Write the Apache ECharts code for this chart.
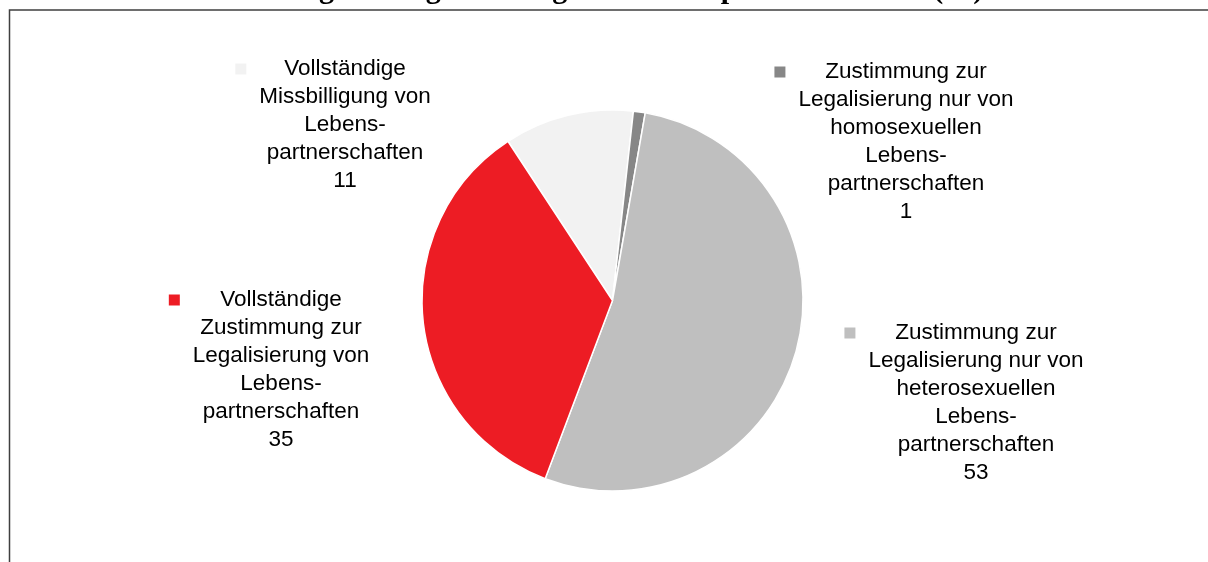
<!DOCTYPE html>
<html>
<head>
<meta charset="utf-8">
<script src="https://cdn.jsdelivr.net/npm/echarts@6/dist/echarts.min.js"></script>
<style>
  html, body { margin: 0; padding: 0; background: #fff; }
  #chart { width: 1208px; height: 562px; }
</style>
</head>
<body>
<div id="chart"></div>
<script>
// Einstellung zur Legalisierung von Lebenspartnerschaften (%)
const names = [
  "Vollständige Missbilligung von Lebenspartnerschaften",
  "Zustimmung zur Legalisierung nur von homosexuellen Lebenspartnerschaften",
  "Zustimmung zur Legalisierung nur von heterosexuellen Lebenspartnerschaften",
  "Vollständige Zustimmung zur Legalisierung von Lebenspartnerschaften"
];
// label text as it is broken in the picture
const labelLines = [
  ["Vollständige", "Missbilligung von", "Lebens-", "partnerschaften"],
  ["Zustimmung zur", "Legalisierung nur von", "homosexuellen", "Lebens-", "partnerschaften"],
  ["Zustimmung zur", "Legalisierung nur von", "heterosexuellen", "Lebens-", "partnerschaften"],
  ["Vollständige", "Zustimmung zur", "Legalisierung von", "Lebens-", "partnerschaften"]
];
const values = [11, 1, 53, 35];

const colors = ["#f2f2f2", "#878787", "#bfbfbf", "#ed1c24"];
// label block: centre x, top y
const labelPos = [[345, 55], [906, 58], [976, 319], [281, 286]];

const myChart = echarts.init(document.getElementById("chart"));

const rich = {
  g: { width: 13, align: "left" },
  s: { width: 24, align: "right" },
  l: { width: 24, align: "left" },
  r: { width: 24, align: "right" },
  t: { align: "center" }
};
colors.forEach(function (c, i) {
  rich["m" + i] = { width: 11, height: 11, backgroundColor: c, align: "left" };
});

const option = {
  animation: false,
  title: {
    text: "Einstellung zur Legalisierung von Lebenspartnerschaften (%)",
    left: 189,
    top: -25,
    padding: 0,
    textStyle: {
      fontFamily: "Liberation Serif",
      fontWeight: "bold",
      fontSize: 30,
      color: "#000"
    }
  },
  graphic: [
    {
      type: "rect",
      shape: { x: 9.5, y: 10, width: 2000, height: 2000 },
      style: { fill: "none", stroke: "#3f3f3f", lineWidth: 1.5 },
      silent: true
    }
  ],
  series: [
    {
      type: "pie",
      center: [612.5, 300.5],
      radius: 190.5,
      startAngle: 123.3,
      avoidLabelOverlap: false,
      emphasis: { disabled: true },
      itemStyle: { borderColor: "#fff", borderWidth: 1.5 },
      label: {
        show: true,
        position: "outside",
        fontFamily: "Liberation Sans",
        fontSize: 22.5,
        lineHeight: 28,
        color: "#000",
        formatter: function (p) {
          const lines = labelLines[p.dataIndex];
          let s = "{m" + p.dataIndex + "|}{g|}{t|" + lines[0] + "}{s|}";
          for (let i = 1; i < lines.length; i += 1) {
            s += "\n{l|}{t|" + lines[i] + "}{r|}";
          }
          s += "\n{l|}{t|" + p.value + "}{r|}";
          return s;
        },
        rich: rich
      },
      labelLine: { show: false },
      labelLayout: function (params) {
        const p = labelPos[params.dataIndex];
        return { x: p[0], y: p[1], align: "center", verticalAlign: "top" };
      },
      data: values.map(function (v, i) {
        return { name: names[i], value: v, itemStyle: { color: colors[i] } };
      })
    }
  ]
};

myChart.setOption(option);
</script>
</body>
</html>
